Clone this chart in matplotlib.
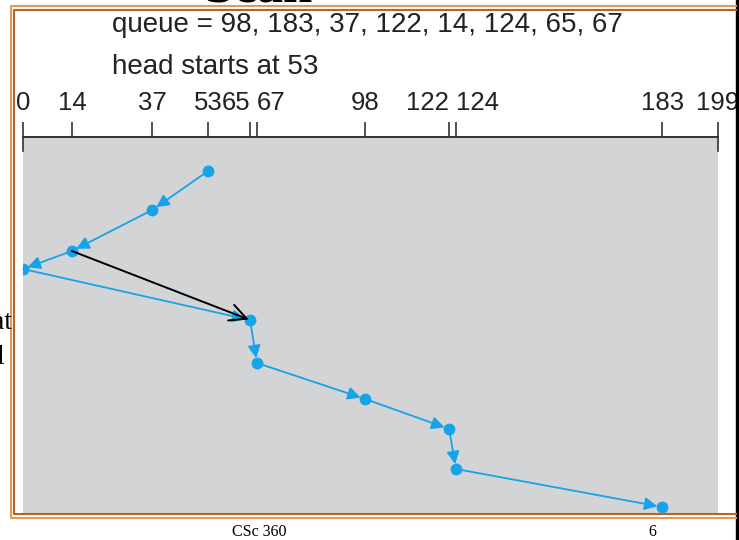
import matplotlib
matplotlib.use('Agg')
import matplotlib.pyplot as plt
from matplotlib.lines import Line2D
from matplotlib.patches import Rectangle

# dados do escalonamento SCAN
fila = [98, 183, 37, 122, 14, 124, 65, 67]
inicio = 53
ordem = [53, 37, 14, 0, 65, 67, 98, 122, 124, 183]   # ordem visitada
passo = [34, 73, 114, 132, 183, 226, 262, 292, 332, 370]  # posição vertical (tempo)
marcas = [0, 14, 37, 53, 65, 67, 98, 122, 124, 183, 199]
seta_preta = (14, 65)

W, H = 739, 540
azul = '#17a3e8'
cinza = '#d3d4d6'

fig = plt.figure(figsize=(W/100, H/100), dpi=100)

def px(x, y):
    return x / W, 1 - y / H

# área do gráfico
ax = fig.add_axes([23/W, 1 - 514/H, (718 - 23)/W, (514 - 137)/H])
ax.set_facecolor(cinza)
ax.set_xlim(0, 199)
ax.set_ylim(377, 0)
for s in ['left', 'right', 'bottom']:
    ax.spines[s].set_visible(False)
ax.spines['top'].set_color('#333333')
ax.spines['top'].set_linewidth(1.4)
ax.set_yticks([])
ax.xaxis.tick_top()
ax.set_xticks(marcas)
ax.set_xticklabels([str(m) for m in marcas], fontsize=18.5, family='Liberation Sans', color='#222222')
ax.tick_params(axis='x', direction='out', length=11, width=1.2, color='#333333', pad=5)
# rótulos muito próximos: um encosta à esquerda, o outro à direita
for lab, m in zip(ax.get_xticklabels(), marcas):
    if m in (65, 122):
        lab.set_ha('right')
    elif m in (67, 124):
        lab.set_ha('left')
# traços do 0 e 199 que descem
for m in [0, 199]:
    ax.plot([m, m], [0, 14], color='#333333', lw=1.2, clip_on=False)

# trajetória
ax.plot(ordem, passo, 'o', color=azul, markersize=7.5, zorder=4)
for i in range(len(ordem) - 1):
    ax.annotate('', xy=(ordem[i+1], passo[i+1]), xytext=(ordem[i], passo[i]),
                arrowprops=dict(arrowstyle='-|>', color=azul, lw=1.3,
                                mutation_scale=19, shrinkA=0, shrinkB=3.5), zorder=3)

# seta preta
a, b = seta_preta
ya, yb = passo[ordem.index(a)], passo[ordem.index(b)]
ax.annotate('', xy=(b, yb), xytext=(a, ya),
            arrowprops=dict(arrowstyle='->', color='black', lw=1.4,
                            mutation_scale=30, shrinkA=0, shrinkB=1), zorder=5)

# textos
x0, y0 = px(112, 32)
fig.text(x0, y0, 'queue = ' + ', '.join(str(q) for q in fila), fontsize=20,
         family='Liberation Sans', color='#222222', va='baseline')
x0, y0 = px(112, 74)
fig.text(x0, y0, f'head starts at {inicio}', fontsize=20,
         family='Liberation Sans', color='#222222', va='baseline')

# título cortado
x0, y0 = px(258, 1)
fig.text(x0, y0, 'Scan', fontsize=38, family='Liberation Serif', weight='bold',
         ha='center', va='baseline')

# restos de texto à esquerda
x0, y0 = px(12, 329)
fig.text(x0, y0, 'at', fontsize=20, family='Liberation Serif', ha='right', va='baseline')
x0, y0 = px(4, 364)
fig.text(x0, y0, 'l', fontsize=20, family='Liberation Serif', ha='right', va='baseline')

# rodapé
x0, y0 = px(259, 536)
fig.text(x0, y0, 'CSc 360', fontsize=11.5, family='Liberation Serif', ha='center', va='baseline')
x0, y0 = px(652, 536)
fig.text(x0, y0, '6', fontsize=11.5, family='Liberation Serif', ha='center', va='baseline')

# moldura dupla laranja
def linha(xs, ys, cor):
    xf = [x / W for x in xs]
    yf = [1 - y / H for y in ys]
    fig.add_artist(Line2D(xf, yf, color=cor, lw=1.5, transform=fig.transFigure))

linha([736, 11, 11, 736], [6, 6, 518, 518], '#e39a52')
linha([736, 14, 14, 736], [10, 10, 514, 514], '#b5651f')

# barra preta à direita
fig.add_artist(Rectangle((736/W, 0), 3/W, 1, color='black', transform=fig.transFigure))

plt.savefig('out.png', dpi=100)
